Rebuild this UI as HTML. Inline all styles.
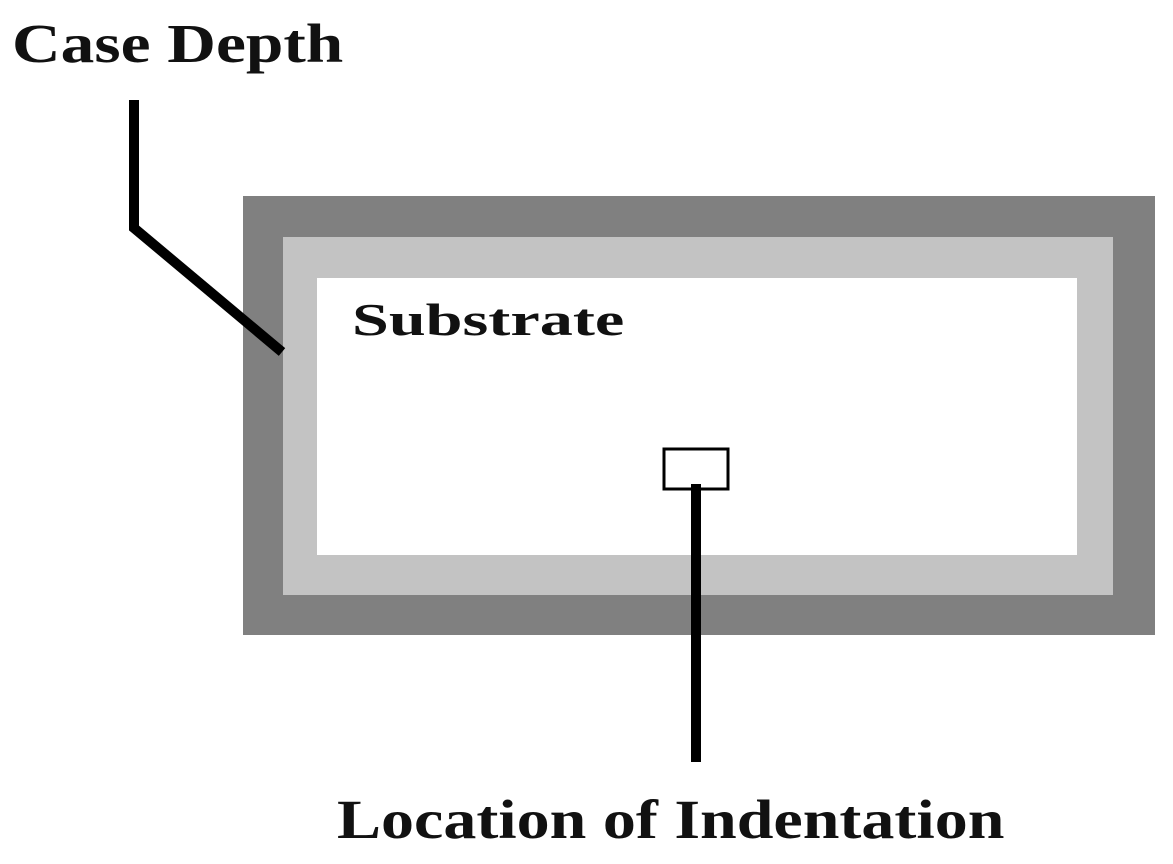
<!DOCTYPE html>
<html><head><style>
html,body{margin:0;padding:0;background:#fff;}
body{width:1173px;height:864px;position:relative;overflow:hidden;font-family:"Liberation Serif",serif;font-weight:bold;color:#111;}
div{position:absolute;}
.t{white-space:nowrap;line-height:1;transform-origin:0 0;}
</style></head><body>
<div style="left:243px;top:196px;width:912px;height:439px;background:#808080"></div>
<div style="left:283px;top:237px;width:830px;height:358px;background:#c3c3c3"></div>
<div style="left:317px;top:278px;width:760px;height:277px;background:#fff"></div>
<svg width="1173" height="864" style="position:absolute;left:0;top:0">
<polyline points="134,100 134,228 282,352" fill="none" stroke="#000" stroke-width="10"/>
<rect x="664" y="449" width="64" height="40" fill="#fff" stroke="#000" stroke-width="3"/>
<line x1="696" y1="484" x2="696" y2="762" stroke="#000" stroke-width="10"/>
</svg>
<div class="t" style="left:12px;top:16px;font-size:55px;transform:scaleX(1.225)">Case Depth</div>
<div class="t" style="left:352px;top:297px;font-size:46px;transform:scaleX(1.44)">Substrate</div>
<div class="t" style="left:337px;top:792px;font-size:55px;transform:scaleX(1.2)">Location of Indentation</div>
</body></html>
